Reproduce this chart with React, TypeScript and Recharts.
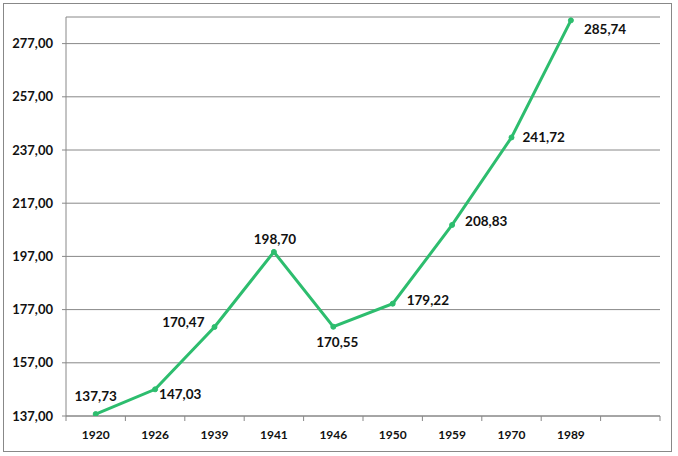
import { CartesianGrid, LabelList, Line, LineChart, XAxis, YAxis } from "recharts";

const YEARS = ["1920", "1926", "1939", "1941", "1946", "1950", "1959", "1970", "1989", ""];
const VALUES = [137.73, 147.03, 170.47, 198.7, 170.55, 179.22, 208.83, 241.72, 285.74, null];
const Y_TICKS = [137, 157, 177, 197, 217, 237, 257, 277];
const Y_DOMAIN = [137, 287];

// Excel placed each data label by hand, so keep the offsets per point
const LABEL_PLACE = [
  { dx: 0, dy: -18, anchor: "middle" },
  { dx: 4, dy: 5, anchor: "start" },
  { dx: -10, dy: -5, anchor: "end" },
  { dx: 1, dy: -13, anchor: "middle" },
  { dx: 4, dy: 15, anchor: "middle" },
  { dx: 14, dy: -4, anchor: "start" },
  { dx: 13, dy: -4, anchor: "start" },
  { dx: 11, dy: 0, anchor: "start" },
  { dx: 13, dy: 9, anchor: "start" },
];

const DATA = YEARS.map((year, i) => ({ year, value: VALUES[i] }));

const GREEN = "#2dbd6e";
const GRAY = "#888888";
const FONT = "Lato, 'Liberation Sans', sans-serif";
const TICK_LEN = 5;
const TICK_GAP = 9;

const comma = (v: number) => v.toFixed(2).replace(".", ",");

function YearTick(props: any) {
  const { x, y, payload, index } = props;
  const half = payload?.offset ?? 0;
  const top = y - TICK_GAP - TICK_LEN;
  return (
    <g>
      <line x1={x - half} x2={x - half} y1={top} y2={top + TICK_LEN} stroke={GRAY} />
      {index === YEARS.length - 1 && (
        <line x1={x + half} x2={x + half} y1={top} y2={top + TICK_LEN} stroke={GRAY} />
      )}
      <text
        x={x}
        y={y}
        dy="0.71em"
        textAnchor="middle"
        fontFamily={FONT}
        fontWeight={700}
        fontSize={12}
        fill="#111"
      >
        {payload.value}
      </text>
    </g>
  );
}

function ValueLabel(props: any) {
  const { x, y, value, index } = props;
  if (value == null) return null;
  const p = LABEL_PLACE[index] ?? { dx: 0, dy: -12, anchor: "middle" };
  return (
    <text
      x={x + p.dx}
      y={y + p.dy}
      textAnchor={p.anchor as any}
      dominantBaseline="central"
      fontFamily={FONT}
      fontWeight={700}
      fontSize={13.5}
      fill="#111"
    >
      {comma(value)}
    </text>
  );
}

export default function App() {
  return (
    <div style={{ position: "relative", width: 678, height: 456, background: "#fff" }}>
      <style>{"body{margin:0}"}</style>
      <div
        style={{
          position: "absolute",
          left: 3,
          top: 3,
          width: 669,
          height: 449,
          border: `1px solid ${GRAY}`,
          boxSizing: "border-box",
        }}
      />
      <LineChart
        width={678}
        height={456}
        data={DATA}
        margin={{ top: 17, right: 18, bottom: 0, left: 6 }}
        style={{ position: "absolute", left: 0, top: 0 }}
      >
        <CartesianGrid vertical={false} stroke={GRAY} />
        <XAxis
          dataKey="year"
          scale="band"
          interval={0}
          height={40}
          axisLine={{ stroke: GRAY }}
          tickLine={false}
          tickSize={TICK_LEN}
          tickMargin={TICK_GAP}
          tick={<YearTick />}
        />
        <YAxis
          domain={Y_DOMAIN}
          ticks={Y_TICKS}
          allowDataOverflow
          width={60}
          axisLine={{ stroke: GRAY }}
          tickLine={{ stroke: GRAY }}
          tickSize={4}
          tickMargin={9}
          tickFormatter={(v) => comma(v as number)}
          tick={{ fill: "#111", fontFamily: FONT, fontWeight: 700, fontSize: 13 }}
        />
        <Line
          type="linear"
          dataKey="value"
          stroke={GREEN}
          strokeWidth={3}
          dot={{ r: 2.5, fill: GREEN, stroke: GREEN, strokeWidth: 1 }}
          activeDot={false}
          isAnimationActive={false}
        >
          <LabelList dataKey="value" content={<ValueLabel />} />
        </Line>
      </LineChart>
    </div>
  );
}
